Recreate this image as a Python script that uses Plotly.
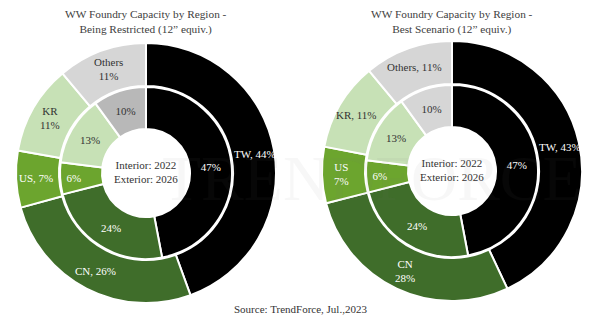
import math
import plotly.graph_objects as go

W, H = 600, 328

regions = ["TW", "CN", "US", "KR", "Others"]
inner_2022 = [47, 24, 6, 13, 10]
outer_restricted = [44, 26, 7, 11, 11]
outer_best = [43, 28, 7, 11, 11]

outer_restricted_text = ["TW, 44%", "CN, 26%", "US, 7%", "KR<br>11%", "Others<br>11%"]
outer_best_text = ["TW, 43%", "CN<br>28%", "US<br>7%", "KR, 11%", "Others, 11%"]
inner_text = [f"{v}%" for v in inner_2022]

titles = ["WW Foundry Capacity by Region -<br>Being Restricted (12\u201d equiv.)",
          "WW Foundry Capacity by Region -<br>Best Scenario (12\u201d equiv.)"]
center_text = "Interior: 2022<br>Exterior: 2026"
source = "Source: TrendForce, Jul.,2023"

colors = ["#000000", "#3f6d2a", "#6ca52e", "#c7e1b6", "#d6d6d6"]
inner_colors_left = ["#000000", "#3f6d2a", "#6ca52e", "#c7e1b6", "#b8b8b8"]
inner_colors_right = ["#000000", "#3f6d2a", "#6ca52e", "#c7e1b6", "#d6d6d6"]
txt_colors = ["white", "white", "white", "#333333", "#333333"]

SERIF = "Liberation Serif, Times New Roman, serif"

fig = go.Figure()

def px_dom(cx, cy_top, r):
    cy = H - cy_top
    return dict(x=[(cx - r) / W, (cx + r) / W], y=[(cy - r) / H, (cy + r) / H])

charts = [
    (146, 173, outer_restricted, outer_restricted_text, inner_colors_left),
    (452, 171, outer_best, outer_best_text, inner_colors_right),
]

R_OUT, R_MID, R_HOLE = 130, 87, 44
annotations = []

for cx, cy, outer_vals, outer_txt, in_cols in charts:
    fig.add_trace(go.Pie(
        labels=regions, values=outer_vals, textinfo="none",
        sort=False, direction="clockwise", rotation=0,
        hole=R_MID / R_OUT, domain=px_dom(cx, cy, R_OUT),
        marker=dict(colors=colors, line=dict(color="white", width=2)),
        showlegend=False, hoverinfo="label+percent",
    ))
    fig.add_trace(go.Pie(
        labels=regions, values=inner_2022, text=inner_text,
        texttemplate="%{text}", textposition="inside",
        insidetextorientation="horizontal",
        sort=False, direction="clockwise", rotation=0,
        hole=R_HOLE / (R_MID - 1), domain=px_dom(cx, cy, R_MID - 1),
        marker=dict(colors=in_cols, line=dict(color="white", width=2)),
        textfont=dict(family=SERIF, size=11, color=txt_colors),
        showlegend=False, hoverinfo="label+percent",
    ))
    # outer ring labels placed at the middle of each slice (derived from data)
    total = sum(outer_vals)
    cum = 0.0
    r_lab = (R_MID + R_OUT) / 2 + 2
    for v, t, c in zip(outer_vals, outer_txt, txt_colors):
        mid = (cum + v / 2) / total * 2 * math.pi
        cum += v
        lx = cx + r_lab * math.sin(mid)
        ly = cy - r_lab * math.cos(mid)
        annotations.append(dict(x=lx / W, y=1 - ly / H, xref="paper", yref="paper",
                                xanchor="center", yanchor="middle",
                                text=t, showarrow=False,
                                font=dict(family=SERIF, size=11, color=c)))

for (cx, cy, *_), t in zip(charts, titles):
    annotations.append(dict(x=cx / W, y=1 - 22 / H, xref="paper", yref="paper",
                            xanchor="center", yanchor="middle",
                            text=t, showarrow=False,
                            font=dict(family=SERIF, size=11.3, color="#404040")))
    annotations.append(dict(x=cx / W, y=1 - (cy - 1) / H, xref="paper", yref="paper",
                            xanchor="center", yanchor="middle",
                            text=center_text, showarrow=False,
                            font=dict(family=SERIF, size=11, color="#333333")))
annotations.append(dict(x=0.5, y=1 - 309 / H, xref="paper", yref="paper",
                        xanchor="center", yanchor="middle",
                        text=source, showarrow=False,
                        font=dict(family=SERIF, size=11, color="#333333")))
# faint watermark
annotations.append(dict(x=372 / W, y=1 - 178 / H, xref="paper", yref="paper",
                        xanchor="center", yanchor="middle",
                        text="TRENDFORCE", showarrow=False,
                        font=dict(family=SERIF, size=64, color="rgba(120,120,120,0.06)")))

fig.update_layout(
    width=W, height=H, autosize=False,
    margin=dict(l=0, r=0, t=0, b=0),
    paper_bgcolor="white", plot_bgcolor="white",
    annotations=annotations,
)

fig.write_html("out.html")
